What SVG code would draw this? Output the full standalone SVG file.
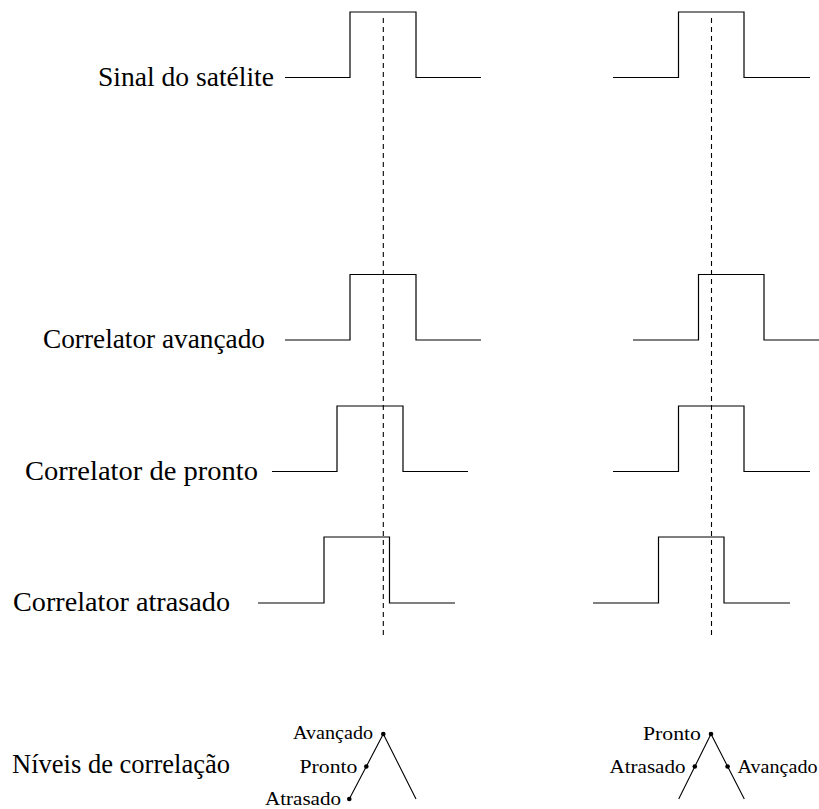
<svg xmlns="http://www.w3.org/2000/svg" width="819" height="809" viewBox="0 0 819 809">
<style>
.sig{fill:none;stroke:#000;stroke-width:1.2}
.dash{fill:none;stroke:#000;stroke-width:1.1;stroke-dasharray:5 4}
.br{fill:none;stroke:#000;stroke-width:1.1}
text{fill:#000}
</style>
<rect width="819" height="809" fill="#fff"/>
<g id="labels" font-family="'Liberation Serif', 'Times New Roman', Tinos, 'DejaVu Serif', 'Noto Serif', serif" font-size="27">
<text x="98" y="86" textLength="176" lengthAdjust="spacingAndGlyphs">Sinal do satélite</text>
<text x="43" y="348" textLength="222" lengthAdjust="spacingAndGlyphs">Correlator avançado</text>
<text x="25" y="480" textLength="233" lengthAdjust="spacingAndGlyphs">Correlator de pronto</text>
<text x="13" y="611" textLength="217" lengthAdjust="spacingAndGlyphs">Correlator atrasado</text>
<text x="12" y="773" textLength="218" lengthAdjust="spacingAndGlyphs">Níveis de correlação</text>
</g>
<g id="signals-left">
<polyline class="sig" points="285,77.5 350,77.5 350,12 416,12 416,77.5 481,77.5"/>
<polyline class="sig" points="285,340 350,340 350,274.5 416,274.5 416,340 481,340"/>
<polyline class="sig" points="272,471.5 337,471.5 337,406 403,406 403,471.5 468,471.5"/>
<polyline class="sig" points="258,603 324,603 324,537 389.5,537 389.5,603 455,603"/>
</g>
<g id="signals-right">
<polyline class="sig" points="613,77.5 678.5,77.5 678.5,12 744,12 744,77.5 810,77.5"/>
<polyline class="sig" points="633,340 698.5,340 698.5,274.5 764,274.5 764,340 819,340"/>
<polyline class="sig" points="613,471.5 678.5,471.5 678.5,406 744,406 744,471.5 810,471.5"/>
<polyline class="sig" points="593,603 658.5,603 658.5,537 724,537 724,603 790,603"/>
</g>
<g id="connectors">
<line class="dash" x1="383.3" y1="18" x2="383.3" y2="638"/>
<line class="dash" x1="711.5" y1="18" x2="711.5" y2="638"/>
</g>
<g id="tree-left" font-family="'Liberation Serif', 'Times New Roman', Tinos, 'DejaVu Serif', 'Noto Serif', serif" font-size="19">
<polyline class="br" points="349.3,799 383.3,734 416,799"/>
<circle cx="383.3" cy="734" r="2.3"/>
<circle cx="366.3" cy="766.5" r="2.3"/>
<circle cx="349.3" cy="799" r="2.3"/>
<text x="373" y="739" text-anchor="end" textLength="80" lengthAdjust="spacingAndGlyphs">Avançado</text>
<text x="357.5" y="773" text-anchor="end" textLength="58" lengthAdjust="spacingAndGlyphs">Pronto</text>
<text x="341" y="805" text-anchor="end" textLength="76" lengthAdjust="spacingAndGlyphs">Atrasado</text>
</g>
<g id="tree-right" font-family="'Liberation Serif', 'Times New Roman', Tinos, 'DejaVu Serif', 'Noto Serif', serif" font-size="19">
<polyline class="br" points="678.7,799 711,734 744.3,799"/>
<circle cx="711" cy="734" r="2.3"/>
<circle cx="694.8" cy="766.5" r="2.3"/>
<circle cx="727.6" cy="766.5" r="2.3"/>
<text x="701" y="740" text-anchor="end" textLength="58" lengthAdjust="spacingAndGlyphs">Pronto</text>
<text x="685.5" y="773" text-anchor="end" textLength="76" lengthAdjust="spacingAndGlyphs">Atrasado</text>
<text x="737.5" y="773" textLength="80" lengthAdjust="spacingAndGlyphs">Avançado</text>
</g>
</svg>
